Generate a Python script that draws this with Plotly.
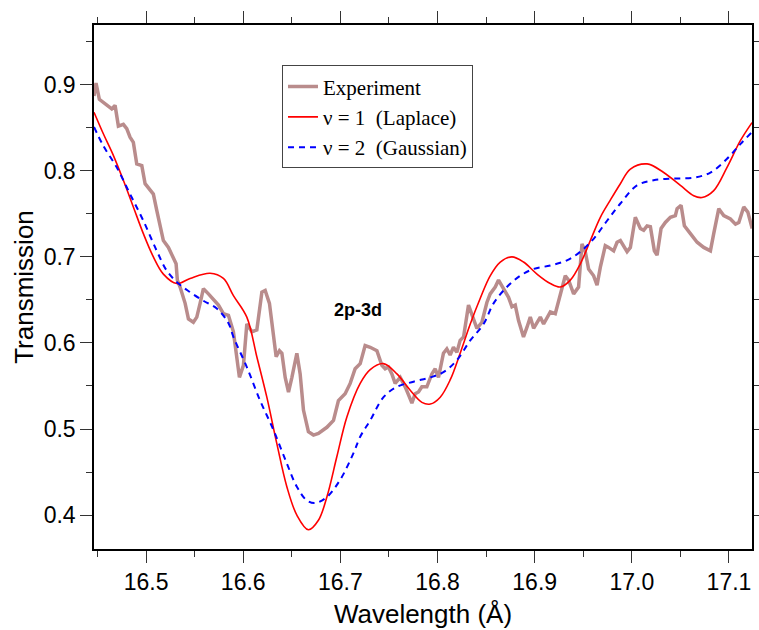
import plotly.graph_objects as go

# Experiment (noisy measured transmission)
exp_wl = [16.4464, 16.4485, 16.4519, 16.4578, 16.4647, 16.4681, 16.4715, 16.4766, 16.4801, 16.4835,
          16.4869, 16.4904, 16.4956, 16.4990, 16.5041, 16.5075, 16.5110, 16.5144, 16.5178, 16.5230,
          16.5265, 16.5309, 16.5322, 16.5350, 16.5402, 16.5436, 16.5487, 16.5522, 16.5556, 16.5590,
          16.5642, 16.5693, 16.5745, 16.5796, 16.5848, 16.5899, 16.5961, 16.6002, 16.6037, 16.6089,
          16.6140, 16.6192, 16.6226, 16.6270, 16.6305, 16.6339, 16.6373, 16.6398, 16.6432, 16.6466,
          16.6501, 16.6552, 16.6586, 16.6620, 16.6671, 16.6723, 16.6774, 16.6861, 16.6929, 16.6980,
          16.7049, 16.7101, 16.7152, 16.7204, 16.7255, 16.7307, 16.7376, 16.7427, 16.7461, 16.7495,
          16.7530, 16.7564, 16.7616, 16.7667, 16.7711, 16.7736, 16.7770, 16.7804, 16.7839, 16.7890,
          16.7942, 16.7976, 16.8010, 16.8061, 16.8096, 16.8130, 16.8164, 16.8199, 16.8233, 16.8268,
          16.8319, 16.8354, 16.8405, 16.8457, 16.8508, 16.8542, 16.8594, 16.8628, 16.8680, 16.8731,
          16.8766, 16.8800, 16.8834, 16.8869, 16.8885, 16.8920, 16.8955, 16.8989, 16.9024, 16.9058,
          16.9092, 16.9127, 16.9161, 16.9212, 16.9264, 16.9315, 16.9349, 16.9401, 16.9452, 16.9487,
          16.9521, 16.9555, 16.9607, 16.9642, 16.9676, 16.9727, 16.9761, 16.9813, 16.9848, 16.9882,
          16.9951, 16.9985, 17.0036, 17.0088, 17.0122, 17.0157, 17.0191, 17.0232, 17.0260, 17.0301,
          17.0345, 17.0397, 17.0448, 17.0466, 17.0507, 17.0541, 17.0603, 17.0672, 17.0740, 17.0809,
          17.0843, 17.0895, 17.0946, 17.1015, 17.1067, 17.1101, 17.1152, 17.1194, 17.1239]
exp_tr = [0.887, 0.902, 0.883, 0.878, 0.872, 0.876, 0.852, 0.854, 0.849, 0.839,
          0.833, 0.808, 0.806, 0.785, 0.777, 0.773, 0.754, 0.738, 0.719, 0.711,
          0.702, 0.692, 0.673, 0.665, 0.646, 0.628, 0.624, 0.630, 0.646, 0.663,
          0.657, 0.651, 0.644, 0.634, 0.632, 0.613, 0.560, 0.574, 0.622, 0.613,
          0.615, 0.659, 0.661, 0.646, 0.611, 0.584, 0.591, 0.588, 0.560, 0.543,
          0.560, 0.588, 0.564, 0.522, 0.497, 0.493, 0.495, 0.502, 0.510, 0.533,
          0.541, 0.553, 0.570, 0.576, 0.597, 0.595, 0.591, 0.574, 0.570, 0.572,
          0.564, 0.553, 0.560, 0.549, 0.537, 0.530, 0.541, 0.543, 0.549, 0.549,
          0.564, 0.570, 0.560, 0.588, 0.593, 0.586, 0.595, 0.589, 0.603, 0.607,
          0.644, 0.632, 0.617, 0.624, 0.647, 0.657, 0.665, 0.673, 0.663, 0.653,
          0.642, 0.644, 0.626, 0.615, 0.607, 0.618, 0.630, 0.617, 0.624, 0.630,
          0.622, 0.630, 0.636, 0.634, 0.655, 0.678, 0.673, 0.657, 0.665, 0.715,
          0.706, 0.686, 0.678, 0.667, 0.688, 0.713, 0.711, 0.707, 0.717, 0.719,
          0.706, 0.711, 0.746, 0.733, 0.731, 0.736, 0.735, 0.707, 0.702, 0.733,
          0.740, 0.746, 0.748, 0.756, 0.760, 0.736, 0.727, 0.717, 0.711, 0.707,
          0.727, 0.756, 0.748, 0.744, 0.738, 0.740, 0.758, 0.752, 0.733]

# nu = 1 (Laplace) model
lap_wl = [16.4464, 16.4560, 16.4663, 16.4766, 16.4869, 16.4972, 16.5075, 16.5178, 16.5316, 16.5453,
          16.5659, 16.5796, 16.5899, 16.6037, 16.6140, 16.6243, 16.6346, 16.6449, 16.6552, 16.6671,
          16.6774, 16.6861, 16.6964, 16.7067, 16.7204, 16.7307, 16.7444, 16.7582, 16.7719, 16.7839,
          16.7925, 16.8028, 16.8130, 16.8233, 16.8337, 16.8440, 16.8542, 16.8646, 16.8766, 16.8885,
          16.9024, 16.9161, 16.9264, 16.9367, 16.9470, 16.9573, 16.9676, 16.9779, 16.9882, 16.9985,
          17.0157, 17.0328, 17.0500, 17.0637, 17.0722, 17.0843, 17.0980, 17.1117, 17.1237]
lap_tr = [0.868, 0.843, 0.818, 0.789, 0.758, 0.727, 0.700, 0.680, 0.669, 0.675,
          0.681, 0.675, 0.655, 0.630, 0.584, 0.537, 0.483, 0.433, 0.400, 0.383,
          0.394, 0.421, 0.468, 0.514, 0.553, 0.569, 0.576, 0.564, 0.545, 0.531,
          0.529, 0.537, 0.557, 0.588, 0.622, 0.652, 0.678, 0.694, 0.700, 0.694,
          0.680, 0.669, 0.665, 0.673, 0.692, 0.719, 0.746, 0.766, 0.785, 0.802,
          0.808, 0.798, 0.783, 0.771, 0.769, 0.777, 0.804, 0.835, 0.856]

# nu = 2 (Gaussian) model
gau_wl = [16.4464, 16.4560, 16.4698, 16.4835, 16.4972, 16.5110, 16.5213, 16.5333, 16.5453, 16.5590,
          16.5728, 16.5848, 16.5899, 16.6037, 16.6174, 16.6311, 16.6449, 16.6552, 16.6655, 16.6741,
          16.6861, 16.6998, 16.7135, 16.7204, 16.7307, 16.7444, 16.7582, 16.7753, 16.7925, 16.8061,
          16.8199, 16.8337, 16.8474, 16.8577, 16.8714, 16.8851, 16.8989, 16.9161, 16.9332, 16.9470,
          16.9607, 16.9745, 16.9882, 17.0053, 17.0224, 17.0431, 17.0637, 17.0809, 17.0980, 17.1117,
          17.1237]
gau_tr = [0.851, 0.829, 0.804, 0.773, 0.742, 0.707, 0.684, 0.669, 0.659, 0.649,
          0.640, 0.623, 0.607, 0.572, 0.533, 0.499, 0.460, 0.433, 0.417, 0.414,
          0.421, 0.441, 0.472, 0.491, 0.510, 0.537, 0.549, 0.555, 0.560, 0.566,
          0.580, 0.603, 0.622, 0.646, 0.665, 0.678, 0.686, 0.690, 0.696, 0.706,
          0.721, 0.742, 0.762, 0.783, 0.789, 0.791, 0.792, 0.798, 0.814, 0.831,
          0.845]

fig = go.Figure()
fig.add_trace(go.Scatter(x=exp_wl, y=exp_tr, mode="lines", name="Experiment",
                         line=dict(color="rgb(185,140,140)", width=3.5)))
fig.add_trace(go.Scatter(x=lap_wl, y=lap_tr, mode="lines", name="ν = 1\u00a0\u00a0(Laplace)",
                         line=dict(color="#ff0000", width=1.6, shape="spline", smoothing=1.0)))
fig.add_trace(go.Scatter(x=gau_wl, y=gau_tr, mode="lines", name="ν = 2\u00a0\u00a0(Gaussian)",
                         line=dict(color="#0000ff", width=2, dash="6px,5px", shape="spline", smoothing=1.0)))

fig.add_annotation(x=16.7183, y=0.6378, text="<b>2p-3d</b>", showarrow=False,
                   font=dict(family="Liberation Sans, Arial", size=18, color="black"))

axis_common = dict(
    showline=True, linecolor="black", linewidth=1.5, mirror="allticks",
    ticks="outside", ticklen=12, tickwidth=1.3, tickcolor="#333",
    showgrid=False, zeroline=False, automargin=False,
    tickfont=dict(family="Liberation Sans, Arial", size=23, color="black"),
)

fig.update_xaxes(range=[16.4464, 17.1237], dtick=0.1, tick0=16.5, tickformat=".1f",
                 minor=dict(dtick=0.05, tick0=16.45, ticklen=6, ticks="outside", tickcolor="#333", tickwidth=1.3),
                 title=dict(text="Wavelength (Å)", font=dict(family="Liberation Sans, Arial", size=26, color="black"),
                            standoff=10),
                 **axis_common)
fig.update_yaxes(range=[0.3606, 0.9694], dtick=0.1, tick0=0.4, tickformat=".1f",
                 minor=dict(dtick=0.05, tick0=0.35, ticklen=6, ticks="outside", tickcolor="#333", tickwidth=1.3),
                 title=dict(text="Transmission", font=dict(family="Liberation Sans, Arial", size=26, color="black"),
                            standoff=3),
                 **axis_common)

fig.update_layout(
    width=759, height=630,
    margin=dict(l=94, r=7, t=25, b=81),
    paper_bgcolor="white", plot_bgcolor="white",
    legend=dict(x=0.2857, y=0.9228, xanchor="left", yanchor="top",
                bordercolor="#444", borderwidth=1, bgcolor="white",
                font=dict(family="Liberation Serif, Times New Roman", size=21, color="black"),
                tracegroupgap=0, itemwidth=30),
    showlegend=True,
)

fig.write_html("out.html")
